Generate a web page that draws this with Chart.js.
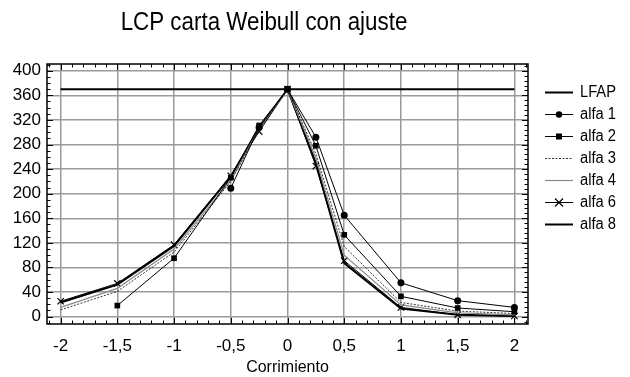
<!DOCTYPE html>
<html>
<head>
<meta charset="utf-8">
<script src="https://cdn.jsdelivr.net/npm/chart.js@4.4.1/dist/chart.umd.min.js"></script>
<style>
html,body{margin:0;padding:0;background:#fff;}
#wrap{position:relative;width:630px;height:377px;}
</style>
</head>
<body>
<div id="wrap"><canvas id="c" width="630" height="377"></canvas></div>
<script>
// ---- data ----
const shifts = [-2, -1.5, -1, -0.5, -0.25, 0, 0.25, 0.5, 1, 1.5, 2];
const lfap  = [370, 370, 370, 370, 370, 370, 370, 370, 370, 370, 370];
const alfa1 = [null, null, null, 209, 308, 370, 292, 165, 55, 26, 15];
const alfa2 = [null, 18, 95, 226, 311, 370, 278, 133, 33, 14, 8];
const alfa3 = [11, 41, 105, 220, 305, 370, 265, 114, 23, 9, 5];
const alfa4 = [15, 46, 110, 222, 306, 370, 258, 100, 19, 6, 3];
const alfa6 = [25, 54, 117, 229, 301, 370, 245, 91, 15, 3, 1];
const alfa8 = [23, 52, 115, 228, 307, 370, 250, 87, 13, 3, 1];
const xTicks = [-2, -1.5, -1, -0.5, 0, 0.5, 1, 1.5, 2];
const yTicks = [0, 40, 80, 120, 160, 200, 240, 280, 320, 360, 400];
const titleText = 'LCP carta Weibull con ajuste';
const xTitle = 'Corrimiento';

const FONT = "'Liberation Sans', Arial, sans-serif";

function pts(arr){ return shifts.map((x,i)=>({x:x, y:arr[i]})); }

const datasets = [
  {label:'LFAP', data:pts(lfap), borderColor:'#000', borderWidth:2, pointRadius:0},
  {label:'alfa 1', data:pts(alfa1), borderColor:'#000', borderWidth:1, pointStyle:'circle', pointRadius:3.5, pointBackgroundColor:'#000', pointBorderColor:'#000', pointBorderWidth:0},
  {label:'alfa 2', data:pts(alfa2), borderColor:'#000', borderWidth:1, pointStyle:'rect', pointRadius:4, pointBackgroundColor:'#000', pointBorderColor:'#000', pointBorderWidth:0},
  {label:'alfa 3', data:pts(alfa3), borderColor:'#000', borderWidth:0.8, borderDash:[2,1.5], pointRadius:0},
  {label:'alfa 4', data:pts(alfa4), borderColor:'#8a8a8a', borderWidth:1.2, pointRadius:0},
  {label:'alfa 6', data:pts(alfa6), borderColor:'#000', borderWidth:1, pointStyle:'crossRot', pointRadius:4.5, pointBorderColor:'#000', pointBorderWidth:1.2},
  {label:'alfa 8', data:pts(alfa8), borderColor:'#000', borderWidth:2, pointRadius:0}
];
datasets.forEach(d=>{ d.fill=false; d.tension=0; d.spanGaps=false; d.pointHoverRadius=d.pointRadius; });

const frame = {
  id:'frame',
  afterDraw(chart){
    const {ctx, chartArea:a, scales} = chart;
    const xs = scales.x, ys = scales.y;
    ctx.save();
    // box
    ctx.strokeStyle = '#000';
    ctx.lineWidth = 1.5;
    ctx.strokeRect(a.left, a.top, a.right-a.left, a.bottom-a.top);
    // ticks
    ctx.lineWidth = 1;
    ctx.beginPath();
    for(let v=-2.1; v<=2.1001; v+=0.1){
      const px = Math.round(xs.getPixelForValue(v))+0.5;
      const major = Math.abs(v*2 - Math.round(v*2)) < 1e-6;
      const L = major ? 6 : 3.5;
      ctx.moveTo(px, a.bottom); ctx.lineTo(px, a.bottom-L);
      ctx.moveTo(px, a.top); ctx.lineTo(px, a.top+L);
    }
    for(let v=-10; v<=410; v+=10){
      const py = Math.round(ys.getPixelForValue(v))+0.5;
      const major = v % 40 === 0;
      const L = major ? 6 : 3.5;
      ctx.moveTo(a.left, py); ctx.lineTo(a.left+L, py);
    }
    for(let v=-8; v<=410; v+=8){
      const py = Math.round(ys.getPixelForValue(v))+0.5;
      const major = v % 40 === 0;
      const L = major ? 6 : 3.5;
      ctx.moveTo(a.right, py); ctx.lineTo(a.right-L, py);
    }
    ctx.stroke();
    // title (condensed look)
    ctx.save();
    ctx.fillStyle = '#000';
    ctx.font = "26px " + FONT;
    ctx.textAlign = 'center';
    ctx.textBaseline = 'middle';
    ctx.translate(264, 23);
    ctx.scale(0.86, 1);
    ctx.fillText(titleText, 0, 0);
    ctx.restore();
    // legend
    ctx.font = "16px " + FONT;
    ctx.textAlign = 'left';
    ctx.textBaseline = 'middle';
    chart.data.datasets.forEach((d,i)=>{
      const y = 92 + i*22;
      ctx.save();
      ctx.strokeStyle = d.borderColor;
      ctx.lineWidth = d.borderWidth;
      ctx.setLineDash(d.borderDash || []);
      ctx.beginPath(); ctx.moveTo(545, y+0.5); ctx.lineTo(573, y+0.5); ctx.stroke();
      ctx.setLineDash([]);
      const cx = 559;
      if(d.pointStyle==='circle' && d.pointRadius>0){ ctx.fillStyle='#000'; ctx.beginPath(); ctx.arc(cx,y+0.5,3.2,0,Math.PI*2); ctx.fill(); }
      if(d.pointStyle==='rect' && d.pointRadius>0){ ctx.fillStyle='#000'; ctx.fillRect(cx-3,y-2.5,6,6); }
      if(d.pointStyle==='crossRot' && d.pointRadius>0){ ctx.lineWidth=1.2; ctx.beginPath(); ctx.moveTo(cx-4,y-3.5); ctx.lineTo(cx+4,y+4.5); ctx.moveTo(cx+4,y-3.5); ctx.lineTo(cx-4,y+4.5); ctx.stroke(); }
      ctx.restore();
      ctx.fillStyle='#000';
      ctx.save();
      ctx.translate(580, y+1);
      ctx.scale(0.92, 1);
      ctx.fillText(d.label, 0, 0);
      ctx.restore();
    });
    ctx.restore();
  }
};

new Chart(document.getElementById('c'), {
  type:'line',
  data:{datasets:datasets},
  options:{
    responsive:false,
    animation:false,
    devicePixelRatio:1,
    layout:{padding:{left:0, right:102, top:64, bottom:0}},
    plugins:{legend:{display:false}, title:{display:false}, tooltip:{enabled:false}},
    scales:{
      x:{
        type:'linear', min:-2.12, max:2.12,
        afterBuildTicks(s){ s.ticks = xTicks.map(v=>({value:v})); },
        afterFit(s){ s.height = 53; },
        grid:{color:'#9a9a9a', lineWidth:1.5, drawTicks:false},
        border:{display:false},
        ticks:{padding:12, color:'#000', font:{family:FONT, size:17},
          callback:(v)=>String(v).replace('.', ',')},
        title:{display:true, text:xTitle, color:'#000', font:{family:FONT, size:16}, padding:{top:0,bottom:0}}
      },
      y:{
        type:'linear', min:-12, max:411,
        afterBuildTicks(s){ s.ticks = yTicks.map(v=>({value:v})); },
        afterFit(s){ s.width = 47; },
        grid:{color:'#9a9a9a', lineWidth:1.5, drawTicks:false},
        border:{display:false},
        ticks:{padding:6, color:'#000', font:{family:FONT, size:17}}
      }
    }
  },
  plugins:[frame]
});
</script>
</body>
</html>
